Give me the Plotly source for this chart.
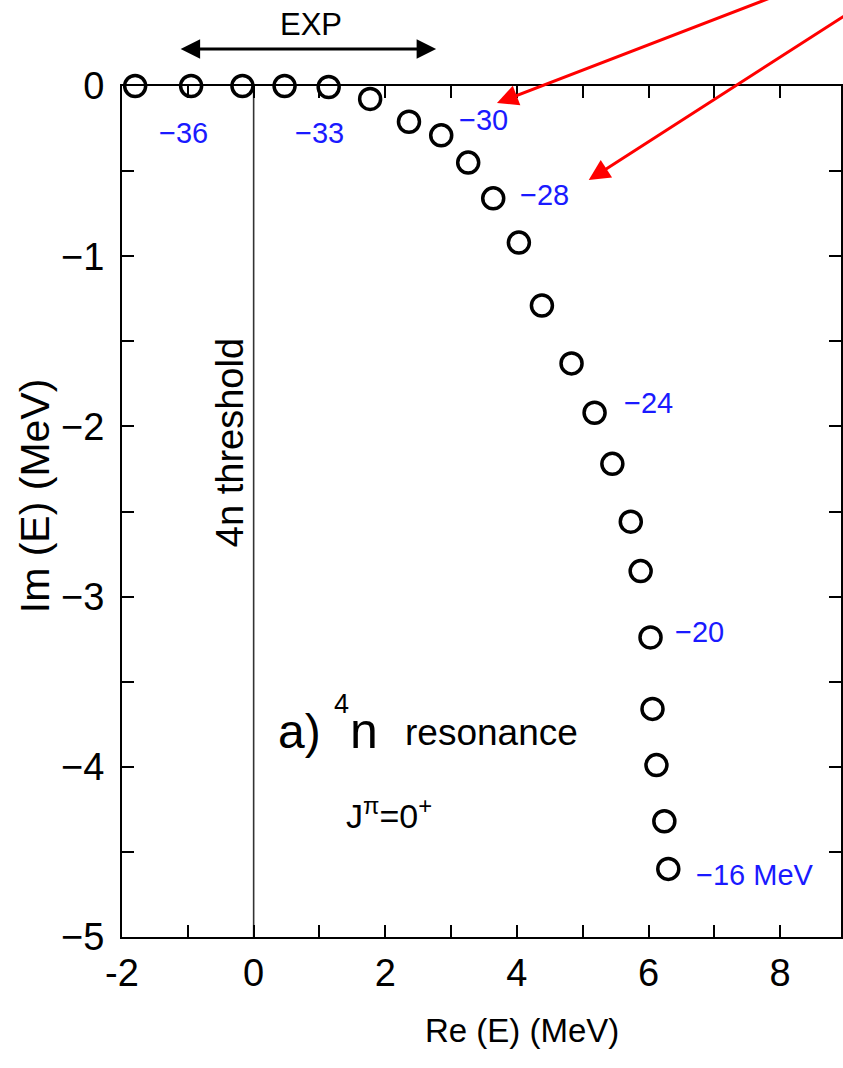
import plotly.graph_objects as go

# Complex-energy trajectory of the 4n resonance (Re E, Im E in MeV)
re_e = [-1.80, -0.95, -0.17, 0.47, 1.14, 1.77, 2.36, 2.85, 3.26, 3.64, 4.03,
        4.38, 4.83, 5.18, 5.45, 5.73, 5.88, 6.03, 6.06, 6.12, 6.24, 6.30]
im_e = [0.0, 0.0, 0.0, 0.0, -0.006, -0.076, -0.21, -0.29, -0.45, -0.66, -0.92,
        -1.29, -1.63, -1.92, -2.22, -2.56, -2.85, -3.24, -3.66, -3.99, -4.32, -4.60]

# Strength labels placed beside selected points
strength_text = ["−36", "−33", "−30", "−28", "−24", "−20", "−16 MeV"]
strength_x = [-1.06, 1.00, 3.485, 4.424, 6.00, 6.78, 7.62]
strength_y = [-0.279, -0.279, -0.200, -0.641, -1.862, -3.209, -4.638]

x_tick_vals = [-2, 0, 2, 4, 6, 8]
x_tick_text = ["-2", "0", "2", "4", "6", "8"]
y_tick_vals = [0, -1, -2, -3, -4, -5]
y_tick_text = ["0", "−1", "−2", "−3", "−4", "−5"]

FONT = "Liberation Sans, Arial, sans-serif"
BLUE = "#1a1aff"
RED = "#ff0000"

# plot area in pixels: left 122, right 843, top 86, bottom 937
fig = go.Figure()

fig.add_trace(go.Scatter(
    x=re_e, y=im_e, mode="markers",
    marker=dict(symbol="circle-open", size=21, color="black",
                line=dict(width=3.5, color="black")),
    cliponaxis=False, showlegend=False,
))

# 4n threshold line
fig.add_shape(type="line", x0=0, x1=0, y0=0, y1=-5, xref="x", yref="y",
              line=dict(color="#333333", width=1.6), layer="below")

ann = []
for t, x, y in zip(strength_text, strength_x, strength_y):
    ann.append(dict(x=x, y=y, text=t, showarrow=False,
                    font=dict(family=FONT, size=29, color=BLUE),
                    xanchor="center", yanchor="middle"))

# EXP range double arrow (above the plot area, paper coordinates)
ann.append(dict(x=0.4369, y=1.0435, xref="paper", yref="paper",
                ax=-257, ay=0, axref="pixel", ayref="pixel",
                text="", showarrow=True,
                arrowside="end+start", arrowhead=2, startarrowhead=2,
                arrowsize=1.3, startarrowsize=1.3, arrowwidth=3,
                arrowcolor="black", standoff=0, startstandoff=0))
ann.append(dict(x=0.2635, y=1.0723, xref="paper", yref="paper", text="EXP",
                xanchor="center", yanchor="middle",
                showarrow=False, font=dict(family=FONT, size=31, color="black")))

# Red pointer arrows
ann.append(dict(x=3.697, y=-0.10, ax=8.955, ay=0.682, axref="x", ayref="y",
                xref="x", yref="y", text="", showarrow=True, arrowhead=2,
                arrowsize=1.4, arrowwidth=3, arrowcolor=RED, standoff=0))
ann.append(dict(x=5.091, y=-0.553, ax=10.06, ay=0.682, axref="x", ayref="y",
                xref="x", yref="y", text="", showarrow=True, arrowhead=2,
                arrowsize=1.4, arrowwidth=3, arrowcolor=RED, standoff=0))

# Threshold label
ann.append(dict(x=-0.348, y=-2.094, text="4n threshold", textangle=-90,
                showarrow=False, font=dict(family=FONT, size=38, color="black")))

# Panel label
ann.append(dict(x=0.697, y=-3.79, text="a)", showarrow=False,
                font=dict(family=FONT, size=48, color="black")))
ann.append(dict(x=1.341, y=-3.63, text="4", showarrow=False,
                font=dict(family=FONT, size=27, color="black")))
ann.append(dict(x=1.674, y=-3.79, text="n", showarrow=False,
                font=dict(family=FONT, size=50, color="black")))
ann.append(dict(x=3.62, y=-3.80, text="resonance", showarrow=False,
                font=dict(family=FONT, size=37, color="black")))
ann.append(dict(x=2.06, y=-4.275, text="J<sup>π</sup>=0<sup>+</sup>", showarrow=False,
                font=dict(family=FONT, size=34, color="black")))

# Axis titles
ann.append(dict(x=0.5562, y=-0.1093, xref="paper", yref="paper", text="Re (E) (MeV)",
                xanchor="center", yanchor="middle",
                showarrow=False, font=dict(family=FONT, size=33, color="black")))
ann.append(dict(x=-0.1207, y=0.5182, xref="paper", yref="paper", text="Im (E) (MeV)",
                xanchor="center", yanchor="middle",
                textangle=-90, showarrow=False,
                font=dict(family=FONT, size=41, color="black")))

fig.update_layout(
    width=843, height=1068,
    margin=dict(l=122, r=0, t=86, b=131),
    paper_bgcolor="white", plot_bgcolor="white",
    annotations=ann,
    showlegend=False,
)

fig.update_xaxes(
    range=[-2, 8.924], tickmode="array", tickvals=x_tick_vals, ticktext=x_tick_text,
    ticks="inside", ticklen=12, tickwidth=1.5, tickcolor="black",
    minor=dict(ticks="inside", ticklen=12, tickwidth=1.5, tickcolor="black",
               tick0=-2, dtick=1, showgrid=False),
    showline=True, linecolor="black", linewidth=2, mirror="ticks",
    showgrid=False, zeroline=False, ticklabelstandoff=1,
    tickfont=dict(family=FONT, size=38, color="black"),
)
fig.update_yaxes(
    range=[-5, 0], tickmode="array", tickvals=y_tick_vals, ticktext=y_tick_text,
    ticks="inside", ticklen=12, tickwidth=1.5, tickcolor="black",
    minor=dict(ticks="inside", ticklen=12, tickwidth=1.5, tickcolor="black",
               tick0=0, dtick=0.5, showgrid=False),
    showline=True, linecolor="black", linewidth=2, mirror="ticks",
    showgrid=False, zeroline=False, ticklabelstandoff=8,
    tickfont=dict(family=FONT, size=38, color="black"),
)

fig.write_html("out.html")
